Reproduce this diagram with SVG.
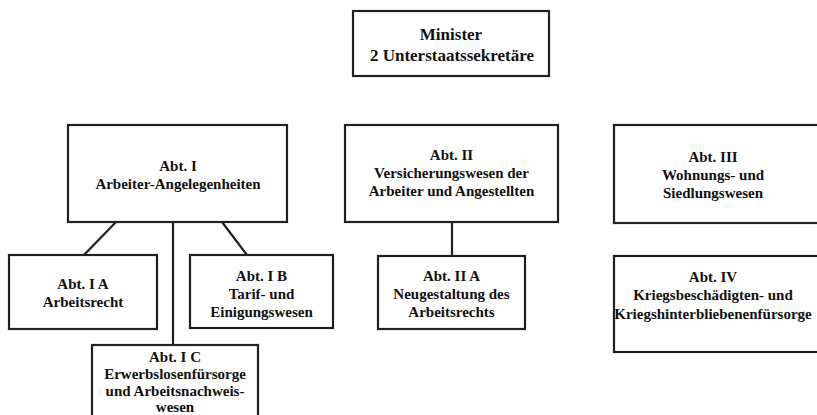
<svg xmlns="http://www.w3.org/2000/svg" width="817" height="415" viewBox="0 0 817 415">
<style>
.box{fill:#fff;stroke:#231f20;stroke-width:2.2}
.t{font-family:"Liberation Serif","Times New Roman",serif;font-weight:bold;font-size:15px;fill:#111;text-anchor:middle}
.big{font-size:17px}
.c{stroke:#231f20;stroke-width:2.2;fill:none}
</style>
<rect width="817" height="415" fill="#fff"/>
<g id="connectors">
<line class="c" x1="116" y1="222" x2="84" y2="255"/>
<line class="c" x1="222" y1="222" x2="247" y2="255"/>
<line class="c" x1="173" y1="222" x2="173" y2="345"/>
<line class="c" x1="452" y1="222" x2="452" y2="256"/>
</g>
<g id="minister">
<rect class="box" x="353" y="11" width="196" height="65"/>
<text class="t big" x="451" y="40">Minister</text>
<text class="t big" x="452" y="61">2 Unterstaatssekretäre</text>
</g>
<g id="abt1">
<rect class="box" x="68" y="125" width="219" height="97"/>
<text class="t" x="178" y="171">Abt. I</text>
<text class="t" x="178" y="189">Arbeiter-Angelegenheiten</text>
</g>
<g id="abt1a">
<rect class="box" x="9" y="255" width="148" height="74"/>
<text class="t" x="83" y="289">Abt. I A</text>
<text class="t" x="83" y="307">Arbeitsrecht</text>
</g>
<g id="abt1b">
<rect class="box" x="190" y="255" width="143" height="73"/>
<text class="t" x="261.5" y="281">Abt. I B</text>
<text class="t" x="261.5" y="299">Tarif- und</text>
<text class="t" x="261.5" y="317">Einigungswesen</text>
</g>
<g id="abt1c">
<rect class="box" x="92" y="345" width="166" height="90"/>
<text class="t" x="175" y="362">Abt. I C</text>
<text class="t" x="175" y="379">Erwerbslosenfürsorge</text>
<text class="t" x="175" y="396">und Arbeitsnachweis-</text>
<text class="t" x="175" y="412">wesen</text>
</g>
<g id="abt2">
<rect class="box" x="345" y="125" width="213" height="97"/>
<text class="t" x="451.5" y="160">Abt. II</text>
<text class="t" x="451.5" y="178">Versicherungswesen der</text>
<text class="t" x="451.5" y="196">Arbeiter und Angestellten</text>
</g>
<g id="abt2a">
<rect class="box" x="378" y="256" width="147" height="73"/>
<text class="t" x="451.5" y="281">Abt. II A</text>
<text class="t" x="451.5" y="299">Neugestaltung des</text>
<text class="t" x="451.5" y="317">Arbeitsrechts</text>
</g>
<g id="abt3">
<rect class="box" x="614" y="125" width="240" height="98"/>
<text class="t" x="713" y="162">Abt. III</text>
<text class="t" x="713" y="180">Wohnungs- und</text>
<text class="t" x="713" y="198">Siedlungswesen</text>
</g>
<g id="abt4">
<rect class="box" x="614" y="256" width="240" height="96"/>
<text class="t" x="713" y="282">Abt. IV</text>
<text class="t" x="713" y="300">Kriegsbeschädigten- und</text>
<text class="t" x="713" y="319">Kriegshinterbliebenenfürsorge</text>
</g>
</svg>
